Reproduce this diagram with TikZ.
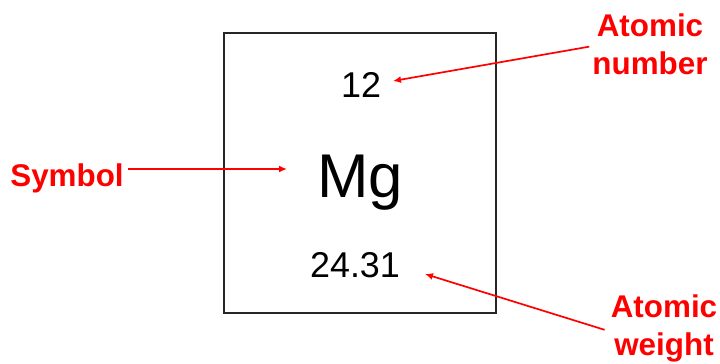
\documentclass[tikz,border=0pt]{standalone}
\usepackage{fontspec}
\setmainfont{Liberation Sans}
\usetikzlibrary{arrows.meta}
\definecolor{labelred}{RGB}{255,0,0}
\tikzset{
  cellnum/.style={anchor=base, inner sep=0pt, font=\fontsize{36}{40}\selectfont},
  redlabel/.style={inner sep=0pt, align=center, text=labelred,
    font=\bfseries\fontsize{31.5}{38}\selectfont},
  pointer/.style={draw=labelred, line width=1.7bp, -{Latex[length=8bp,width=7bp]}}
}
\begin{document}
\begin{tikzpicture}[x=1bp, y=-1bp]
\useasboundingbox (0,0) rectangle (720,363);
% the element cell
\node[draw=black!85, line width=1.3bp, minimum width=272bp, minimum height=280bp, inner sep=0pt] (cell) at (360,173) {};
\node[cellnum] (number) at (361,97) {12};
\node[cellnum, font=\fontsize{62}{70}\selectfont] (symbol) at (360,197) {Mg};
\node[cellnum] (weight) at (355,277) {24.31};
% labels
\node[redlabel, anchor=north] (numlabel) at (650,14) {Atomic\\number};
\node[redlabel, anchor=base] (symlabel) at (67,186) {Symbol};
\node[redlabel, anchor=north] (wtlabel) at (664,295) {Atomic\\weight};
\coordinate (numtip) at (393,81);
\coordinate (symtip) at (287,169);
\coordinate (wttip) at (425,274);
\draw[pointer] ([xshift=-3bp, yshift=-2bp]numlabel.west) -- (numtip);
\draw[pointer] ([xshift=4bp]symlabel.east |- symtip) -- (symtip);
\draw[pointer] ([xshift=-6bp, yshift=-1bp]wtlabel.west) -- (wttip);
\end{tikzpicture}
\end{document}
